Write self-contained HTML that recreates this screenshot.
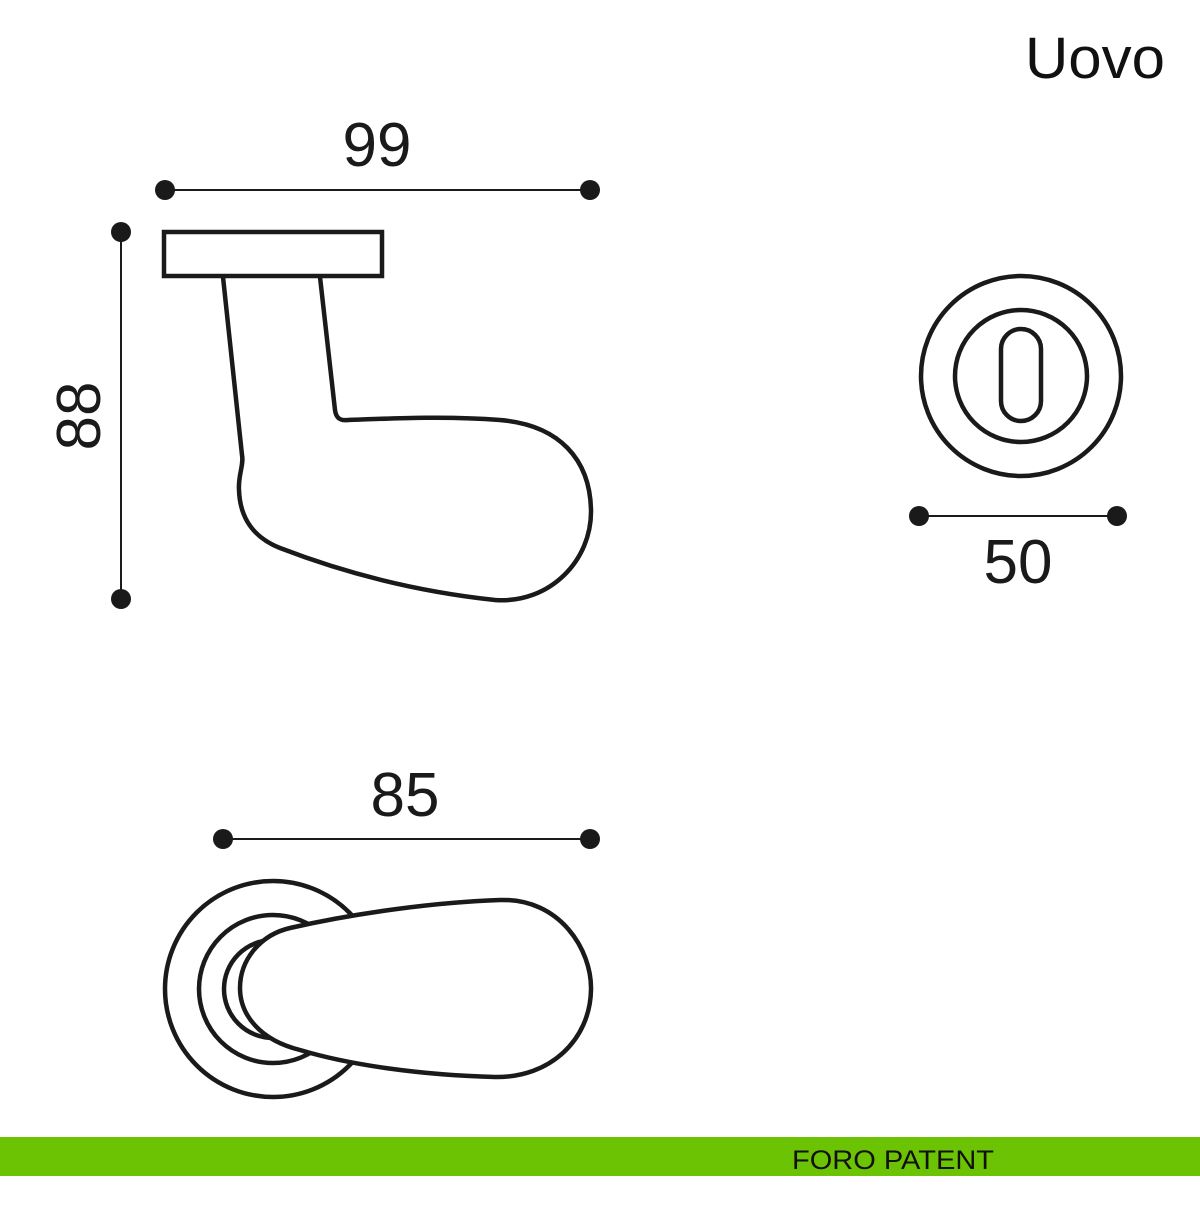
<!DOCTYPE html>
<html><head><style>html,body{margin:0;padding:0;background:#fff}</style></head>
<body>
<svg width="1200" height="1200" viewBox="0 0 1200 1200" xmlns="http://www.w3.org/2000/svg" font-family="Liberation Sans, sans-serif">
<rect width="1200" height="1200" fill="#fff"/>
<text x="1025" y="78" font-size="58" textLength="140" lengthAdjust="spacingAndGlyphs" fill="#111">Uovo</text>
<g stroke="#1a1a1a" stroke-width="4.5" fill="none">
 <line x1="165" y1="190" x2="590" y2="190" stroke-width="2"/>
 <line x1="121" y1="232" x2="121" y2="599" stroke-width="2"/>
 <line x1="919" y1="516" x2="1117" y2="516" stroke-width="2"/>
 <line x1="223" y1="839" x2="590" y2="839" stroke-width="2"/>
 <rect x="164" y="232" width="218" height="44"/>
 <path d="M223,277 L242,455 C244,465 238,475 239,490 C240,520 255,538 280,548 C350,575 420,592 495,600 C550,604 592,560 591,510 C590,460 560,425 500,420 C450,416 400,418 348,420 C340,421 336,418 335,410 L320,277"/>
 <circle cx="1021" cy="376" r="100"/>
 <circle cx="1021" cy="376" r="66"/>
 <rect x="1001" y="329" width="40" height="92" rx="20"/>
 <circle cx="273" cy="989" r="108"/>
 <circle cx="273" cy="989" r="74"/>
 <circle cx="273" cy="989" r="49"/>
 <path fill="#fff" d="M500,900 C560,898 592,950 591,990 C590,1040 550,1078 495,1077 C420,1075 350,1065 300,1050 C260,1040 240,1015 240,988 C240,960 260,935 290,928 C360,912 440,902 500,900 Z"/>
</g>
<g fill="#1a1a1a">
 <circle cx="165" cy="190" r="10"/><circle cx="590" cy="190" r="10"/>
 <circle cx="121" cy="232" r="10"/><circle cx="121" cy="599" r="10"/>
 <circle cx="919" cy="516" r="10"/><circle cx="1117" cy="516" r="10"/>
 <circle cx="223" cy="839" r="10"/><circle cx="590" cy="839" r="10"/>
</g>
<g font-size="62" fill="#1a1a1a" text-anchor="middle">
 <text x="377" y="166">99</text>
 <text x="1018" y="583">50</text>
 <text x="405" y="816">85</text>
 <text transform="translate(100,416) rotate(-90)">88</text>
</g>
<rect x="0" y="1137" width="1200" height="39" fill="#6cc304"/>
<text x="792" y="1169" font-size="27" textLength="202" lengthAdjust="spacingAndGlyphs" fill="#111">FORO PATENT</text>
</svg>
</body></html>
